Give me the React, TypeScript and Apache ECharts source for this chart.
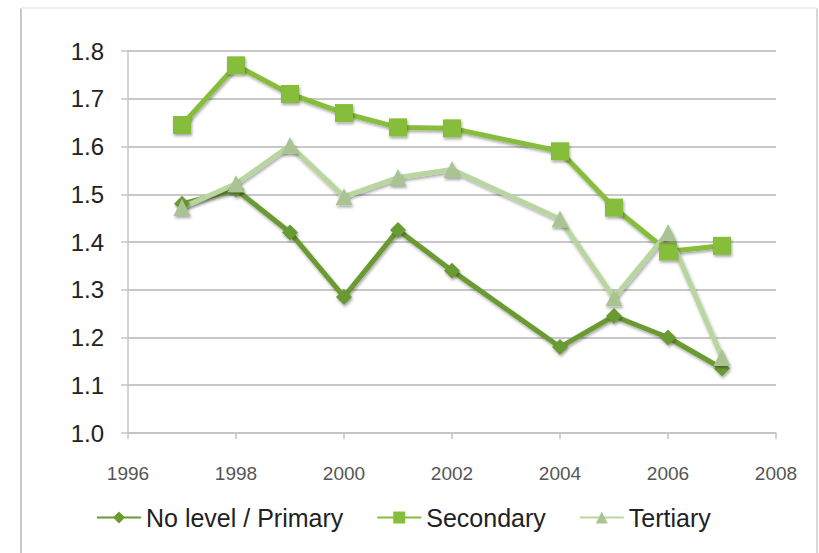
import React, { useEffect, useRef } from "react";
import * as echarts from "echarts";

const primaryYears = [1997, 1998, 1999, 2000, 2001, 2002, 2004, 2005, 2006, 2007];
const primaryValues = [1.48, 1.51, 1.42, 1.285, 1.425, 1.34, 1.18, 1.245, 1.2, 1.135];
const secondaryYears = [1997, 1998, 1999, 2000, 2001, 2002, 2004, 2005, 2006, 2007];
const secondaryValues = [1.645, 1.77, 1.71, 1.67, 1.64, 1.638, 1.59, 1.472, 1.38, 1.392];
const tertiaryYears = [1997, 1998, 1999, 2000, 2001, 2002, 2004, 2005, 2006, 2007];
const tertiaryValues = [1.472, 1.522, 1.602, 1.495, 1.535, 1.552, 1.448, 1.283, 1.42, 1.158];

const seriesNames = ["No level / Primary", "Secondary", "Tertiary"];

const pair = (xs: number[], ys: number[]) => xs.map((x, i) => [x, ys[i]]);

export default function App() {
  const ref = useRef<HTMLDivElement>(null);
  useEffect(() => {
    if (!ref.current) return;
    const chart = echarts.init(ref.current, null, { renderer: "svg" });
    const shadow = {
      shadowBlur: 3,
      shadowColor: "rgba(0,0,0,0.35)",
      shadowOffsetX: 1,
      shadowOffsetY: 2,
    };
    chart.setOption({
      animation: false,
      backgroundColor: "#ffffff",
      textStyle: { fontFamily: "Liberation Sans" },
      grid: { left: 128, right: 43, top: 51, bottom: 120, containLabel: false },
      legend: {
        left: 96,
        top: 505,
        padding: 0,
        itemWidth: 44,
        itemHeight: 15,
        itemGap: 33,
        textStyle: { fontSize: 25, color: "#222", fontFamily: "Liberation Sans" },
        data: seriesNames,
      },
      xAxis: {
        type: "value",
        min: 1996,
        max: 2008,
        interval: 2,
        axisLine: { show: true, lineStyle: { color: "#c4c4c4", width: 1.5 } },
        axisTick: { show: true, length: 6, lineStyle: { color: "#c4c4c4", width: 1.5 } },
        axisLabel: {
          fontSize: 19,
          color: "#555",
          margin: 31,
          formatter: (v: number) => String(v),
        },
        splitLine: { show: false },
      },
      yAxis: {
        type: "value",
        min: 1.0,
        max: 1.8,
        interval: 0.1,
        axisLine: { show: true, lineStyle: { color: "#c4c4c4", width: 1.5 } },
        axisTick: { show: true, length: 7, lineStyle: { color: "#c4c4c4", width: 1.5 } },
        axisLabel: {
          fontSize: 24,
          color: "#222",
          margin: 24,
          formatter: (v: number) => v.toFixed(1),
        },
        splitLine: { show: true, lineStyle: { color: "#c8c8c8", width: 2 } },
      },
      graphic: [
        { type: "line", shape: { x1: 21, y1: 8, x2: 21, y2: 553 }, style: { stroke: "#c8c8c8", lineWidth: 2 } },
        { type: "line", shape: { x1: 817, y1: 8, x2: 817, y2: 553 }, style: { stroke: "#d8d8d8", lineWidth: 2 } },
        { type: "line", shape: { x1: 21, y1: 8, x2: 817, y2: 8 }, style: { stroke: "#f0f0f0", lineWidth: 2 } },
      ],
      series: [
        {
          name: seriesNames[0],
          type: "line",
          data: pair(primaryYears, primaryValues),
          symbol: "diamond",
          symbolSize: 16,
          lineStyle: { color: "#6b9a30", width: 5, ...shadow },
          itemStyle: { color: "#6b9a30", ...shadow },
        },
        {
          name: seriesNames[1],
          type: "line",
          data: pair(secondaryYears, secondaryValues),
          symbol: "rect",
          symbolSize: 18,
          lineStyle: { color: "#86bd3a", width: 5, ...shadow },
          itemStyle: { color: "#86bd3a", ...shadow },
        },
        {
          name: seriesNames[2],
          type: "line",
          data: pair(tertiaryYears, tertiaryValues),
          symbol: "triangle",
          symbolSize: 17,
          lineStyle: { color: "#b9d6a0", width: 5, ...shadow },
          itemStyle: { color: "#a9c392", ...shadow },
        },
      ],
    });
    return () => chart.dispose();
  }, []);
  return (
    <div
      ref={ref}
      style={{ position: "fixed", left: 0, top: 0, width: 819, height: 553 }}
    />
  );
}
